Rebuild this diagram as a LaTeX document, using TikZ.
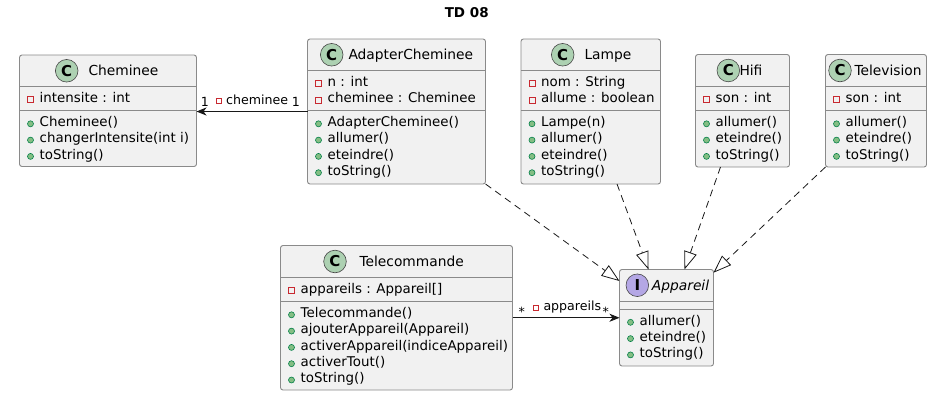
\documentclass[tikz,border=0pt]{standalone}
\usepackage{fontspec}
\setmainfont{DejaVu Sans}
\usetikzlibrary{arrows.meta,calc}
\definecolor{linec}{HTML}{181818}
\definecolor{borderc}{HTML}{8A8A8A}
\definecolor{boxfill}{HTML}{F1F1F1}
\definecolor{cfill}{HTML}{ADD1B2}
\definecolor{ifill}{HTML}{B4A7E5}
\definecolor{privc}{HTML}{C82930}
\definecolor{pubfill}{HTML}{84BE84}
\definecolor{pubdraw}{HTML}{038048}
\newcounter{memc}
\newcommand\mkclass[5]{%
  \node[classbox, minimum width={(#4-#2)*1pt}, minimum height={(#5-#3)*1pt}] (#1) at ({(#2+#4)/2},{(#3+#5)/2}) {};}
\newcommand\hdiv[3]{\draw[divline] (#1,#3) -- (#2,#3);}
\newcommand\mkhead[7]{% id, circle x, y, letter, fill, name x, name
  \node[circ, fill=#5] (#1c) at (#2,#3) {#4};
  \node[clname] (#1n) at (#6,{#3+5}) {#7};}
\newcommand\priv[3]{\stepcounter{memc}%
  \draw[privicon] ({#1+8},{#2-3}) rectangle ++(6,6);
  \node[member] (mem\arabic{memc}) at ({#1+20},#2) {#3};}
\newcommand\pub[3]{\stepcounter{memc}%
  \fill[pubicon] ({#1+11},#2) circle (3);
  \node[member] (mem\arabic{memc}) at ({#1+20},#2) {#3};}
\begin{document}
\begin{tikzpicture}[x=1pt,y=-1pt,
  classbox/.style={draw=borderc, fill=boxfill, line width=0.9pt, rounded corners=2.5pt, inner sep=0pt, outer sep=0pt},
  divline/.style={draw=borderc, line width=0.9pt},
  member/.style={anchor=mid west, inner sep=0pt, font=\fontsize{13.4}{16}\selectfont},
  clname/.style={anchor=base west, inner sep=0pt, font=\fontsize{13.8}{16}\selectfont},
  circ/.style={circle, draw=linec!80, line width=0.6pt, minimum size=22.6pt, inner sep=0pt, font=\fontsize{15}{16}\selectfont\bfseries},
  privicon/.style={draw=privc, line width=0.8pt},
  pubicon/.style={fill=pubfill, draw=pubdraw, line width=0.6pt},
  assoc/.style={draw=linec, line width=0.8pt, -{Stealth[length=10pt,width=8pt,inset=3pt]}},
  realize/.style={draw=linec, line width=0.8pt, dash pattern=on 7pt off 5pt, -{Triangle[open,length=18pt,width=13pt]}},
  lbl/.style={inner sep=0pt, font=\fontsize{12.6}{14}\selectfont}]
\fill[white] (0,0) rectangle (945,410);
\useasboundingbox (0,0) rectangle (945,410);

\node[inner sep=0pt, font=\fontsize{13.5}{16}\selectfont\bfseries] (title) at (466.7,12.3) {TD 08};

% Cheminee
\mkclass{chem}{19.5}{55}{196.5}{166.5}
\hdiv{19.5}{196.5}{86.5}\hdiv{19.5}{196.5}{110.5}
\mkhead{chem}{66.7}{70.75}{C}{cfill}{88.3}{Cheminee}
\priv{19.5}{99.8}{intensite : int}
\pub{19.5}{123.8}{Cheminee()}
\pub{19.5}{140.1}{changerIntensite(int i)}
\pub{19.5}{156.4}{toString()}

% AdapterCheminee
\mkclass{adapt}{307.5}{39}{485.5}{184}
\hdiv{307.5}{485.5}{70.5}\hdiv{307.5}{485.5}{110.5}
\mkhead{adapt}{331.7}{54.75}{C}{cfill}{348.3}{AdapterCheminee}
\priv{307.5}{83.8}{n : int}
\priv{307.5}{100.1}{cheminee : Cheminee}
\pub{307.5}{123.8}{AdapterCheminee()}
\pub{307.5}{140.1}{allumer()}
\pub{307.5}{156.4}{eteindre()}
\pub{307.5}{172.7}{toString()}

% Lampe
\mkclass{lampe}{521}{39}{660.5}{184}
\hdiv{521}{660.5}{70.5}\hdiv{521}{660.5}{110.5}
\mkhead{lampe}{562.7}{54.75}{C}{cfill}{584.3}{Lampe}
\priv{521}{83.8}{nom : String}
\priv{521}{100.1}{allume : boolean}
\pub{521}{123.8}{Lampe(n)}
\pub{521}{140.1}{allumer()}
\pub{521}{156.4}{eteindre()}
\pub{521}{172.7}{toString()}

% Hifi
\mkclass{hifi}{695.5}{54.5}{789.5}{167}
\hdiv{695.5}{789.5}{86.5}\hdiv{695.5}{789.5}{110.5}
\mkhead{hifi}{728.3}{70.5}{C}{cfill}{739.3}{Hifi}
\priv{695.5}{99.8}{son : int}
\pub{695.5}{123.8}{allumer()}
\pub{695.5}{140.1}{eteindre()}
\pub{695.5}{156.4}{toString()}

% Television
\mkclass{tv}{825.5}{54.5}{926.5}{167}
\hdiv{825.5}{926.5}{86.5}\hdiv{825.5}{926.5}{110.5}
\mkhead{tv}{840}{70.5}{C}{cfill}{854.3}{Television}
\priv{825.5}{99.8}{son : int}
\pub{825.5}{123.8}{allumer()}
\pub{825.5}{140.1}{eteindre()}
\pub{825.5}{156.4}{toString()}

% Telecommande
\mkclass{tele}{280.5}{245.5}{512.5}{390}
\hdiv{280.5}{512.5}{277.5}\hdiv{280.5}{512.5}{301.5}
\mkhead{tele}{335}{261.5}{C}{cfill}{359.3}{Telecommande}
\priv{280.5}{290.8}{appareils : Appareil[]}
\pub{280.5}{314.8}{Telecommande()}
\pub{280.5}{331.1}{ajouterAppareil(Appareil)}
\pub{280.5}{347.4}{activerAppareil(indiceAppareil)}
\pub{280.5}{363.7}{activerTout()}
\pub{280.5}{380}{toString()}

% Appareil
\mkclass{app}{619.5}{269.5}{713.5}{366}
\hdiv{619.5}{713.5}{301}\hdiv{619.5}{713.5}{309}
\mkhead{app}{637.3}{285.25}{I}{ifill}{651.7}{\itshape Appareil}
\pub{619.5}{322.3}{allumer()}
\pub{619.5}{338.6}{eteindre()}
\pub{619.5}{354.9}{toString()}

% associations
\draw[assoc] (adapt.west) -- (adapt.west -| chem.east);
\node[lbl, anchor=base] (mulA) at (205,106.7) {1};
\node[lbl, anchor=base] (mulB) at (296,106.7) {1};
\draw[privicon] (216.8,98.2) rectangle ++(5,5);
\node[lbl, anchor=base west] (lblchem) at (226,104) {cheminee};

\draw[assoc] (tele.east) -- (tele.east -| app.west);
\node[lbl, anchor=base] (mulC) at (521.7,316) {*};
\node[lbl, anchor=base] (mulD) at (605.7,316) {*};
\draw[privicon] (533.5,305.2) rectangle ++(5,5);
\node[lbl, anchor=base west] (lblapp) at (543.3,310) {appareils};

% realizations
\draw[realize] (adapt.south east) -- ($(app.north west)+(0,11.5)$);
\draw[realize] ($(lampe.south east)+(-43.5,0)$) -- ($(app.north west)+(29,0)$);
\draw[realize] ($(hifi.south west)+(25,0)$) -- ($(app.north west)+(65,0)$);
\draw[realize] (tv.south west) -- ($(app.north east)+(0,3.2)$);
\end{tikzpicture}
\end{document}
